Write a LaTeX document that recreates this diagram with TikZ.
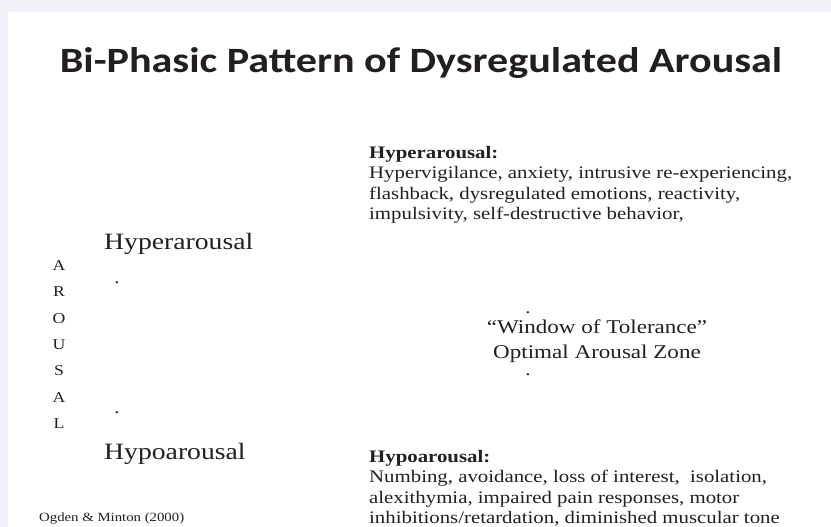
\documentclass[tikz,border=0pt]{standalone}
\usepackage{fontspec}
\setmainfont{Liberation Serif}[FakeStretch=1.183]
\newfontfamily\titlefont{Carlito}[FakeStretch=1.183]
\definecolor{slidegray}{HTML}{F1F2F7}
\definecolor{ink}{HTML}{231F20}
\tikzset{
	heading/.style={anchor=base,inner sep=0pt,text=ink,font=\titlefont\bfseries\fontsize{35.6}{40}\selectfont},
	body/.style={anchor=north west,align=left,inner sep=0pt,text=ink,font=\fontsize{17.6}{20.5}\selectfont},
	level/.style={anchor=base west,inner sep=0pt,text=ink,font=\fontsize{23.4}{28}\selectfont},
	axisletter/.style={anchor=base,inner sep=0pt,text=ink,font=\fontsize{15}{18}\selectfont},
	zone/.style={anchor=base,inner sep=0pt,text=ink,font=\fontsize{19.5}{24}\selectfont},
	tick/.style={anchor=base,inner sep=0pt,text=ink,font=\fontsize{17.6}{20}\selectfont},
	source/.style={anchor=base west,inner sep=0pt,text=ink,font=\fontsize{12.5}{15}\selectfont}
}
\begin{document}
\begin{tikzpicture}[x=1pt,y=-1pt]
		\useasboundingbox (0,0) rectangle (831,527);
		\fill[slidegray] (0,0) rectangle (831,527);
		\fill[white] (8,12) rectangle (831,527);

		\node[heading] (title) at (421,72.5) {Bi-Phasic Pattern of Dysregulated Arousal};

		\node[level] (hyper) at (104,249) {Hyperarousal};
		\node[level] (hypo) at (104,459) {Hypoarousal};
		\node[tick] (hyperdot) at (117,283) {.};
		\node[tick] (hypodot) at (117,413) {.};

		\foreach \letter [count=\i from 0] in {A,R,O,U,S,A,L}
			\node[axisletter] (axis\i) at (59,270.5+26.3*\i) {\letter};

		\node[body] (hyperlist) at (369,146) {\textbf{Hyperarousal:}\\
			Hypervigilance, anxiety, intrusive re-experiencing,\\
			flashback, dysregulated emotions, reactivity,\\
			impulsivity, self-destructive behavior,};

		\node[tick] (topdot) at (528,313) {.};
		\node[zone] (window) at (597,333) {“Window of Tolerance”};
		\node[zone] (optimal) at (597,358.5) {Optimal Arousal Zone};
		\node[tick] (bottomdot) at (528,375) {.};

		\node[body] (hypolist) at (369,450) {\textbf{Hypoarousal:}\\
			Numbing, avoidance, loss of interest,~ isolation,\\
			alexithymia, impaired pain responses, motor\\
			inhibitions/retardation, diminished muscular tone};

		\node[source] (ogden) at (39,521) {Ogden \& Minton (2000)};
\end{tikzpicture}
\end{document}
